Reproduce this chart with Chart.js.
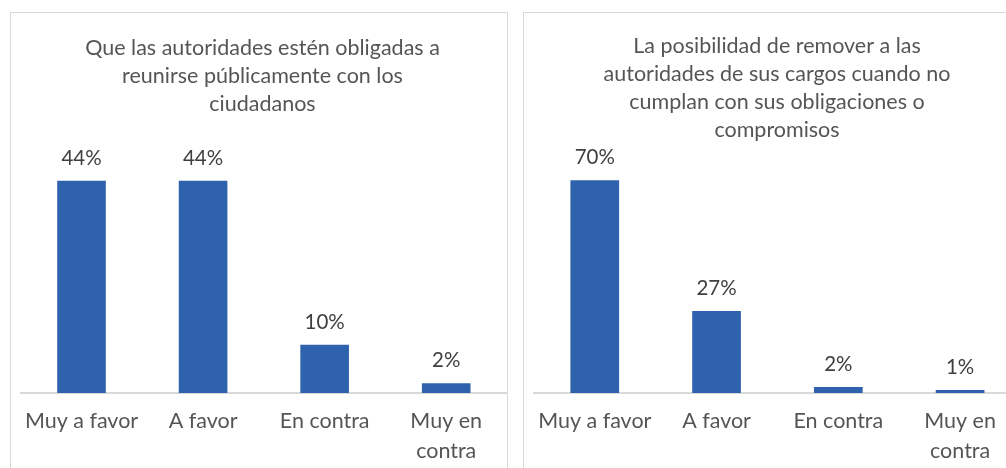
<!DOCTYPE html>
<html lang="es">
<head>
<meta charset="UTF-8">
<title>Encuesta autoridades</title>
<script src="https://cdn.jsdelivr.net/npm/chart.js"></script>
<style>
  html,body{margin:0;padding:0;background:#fff;overflow:hidden;width:1006px;height:468px;}
  .panel{position:absolute;top:12px;height:470px;border:1px solid #d9d9d9;box-sizing:border-box;background:#fff;}
  #p1{left:10px;width:498px;}
  #p2{left:523px;width:508px;}
  .panel canvas{display:block;}
</style>
</head>
<body>
<div class="panel" id="p1"><canvas id="c1"></canvas></div>
<div class="panel" id="p2"><canvas id="c2"></canvas></div>

<script>
/* ==== datos ==== */
const categories = ['Muy a favor', 'A favor', 'En contra', ['Muy en', 'contra']];
const titleLeft = ['Que las autoridades estén obligadas a', 'reunirse públicamente con los', 'ciudadanos'];
const titleRight = ['La posibilidad de remover a las', 'autoridades de sus cargos cuando no', 'cumplan con sus obligaciones o', 'compromisos'];
const valuesLeft = [44, 44, 10, 2];
const valuesRight = [70, 27, 2, 1];

const FONT = 'Lato, "Open Sans", sans-serif';
const BLUE = '#2f62ad';

/* etiquetas encima de las barras */
const barLabels = {
  id: 'barLabels',
  afterDatasetsDraw(chart){
    const ctx = chart.ctx;
    const meta = chart.getDatasetMeta(0);
    const data = chart.data.datasets[0].data;
    ctx.save();
    ctx.font = '20.5px ' + FONT;
    ctx.fillStyle = '#3f3f3f';
    ctx.textAlign = 'center';
    ctx.textBaseline = 'alphabetic';
    meta.data.forEach((bar, i) => {
      ctx.fillText(Math.round(data[i]) + '%', bar.x, bar.y - 16);
    });
    ctx.restore();
  }
};

function makeChart(id, title, values, yMax, pad, titlePad){
  return new Chart(document.getElementById(id), {
    type: 'bar',
    data: {
      labels: categories,
      datasets: [{ data: values, backgroundColor: BLUE, barPercentage: 0.4, categoryPercentage: 1 }]
    },
    options: {
      responsive: false,
      animation: false,
      layout: { padding: pad },
      plugins: {
        legend: { display: false },
        tooltip: { enabled: false },
        title: {
          display: true,
          text: title,
          color: '#555555',
          font: { family: FONT, size: 21.5, weight: 'normal', lineHeight: 1.3 },
          padding: titlePad
        }
      },
      scales: {
        x: {
          grid: { display: false, drawTicks: false },
          border: { display: true, color: '#d9d9d9', width: 2 },
          ticks: { color: '#555555', font: { family: FONT, size: 21.5, lineHeight: 1.4 }, padding: 13, maxRotation: 0, autoSkip: false },
          afterFit(scale){ scale.height = 88; }
        },
        y: { display: false, min: 0, max: yMax }
      }
    },
    plugins: [barLabels]
  });
}

const c1 = document.getElementById('c1'); c1.width = 496; c1.height = 468;
const c2 = document.getElementById('c2'); c2.width = 506; c2.height = 468;

makeChart('c1', titleLeft, valuesLeft, 50, { left: 7, right: 0, top: 0, bottom: 0 }, { top: 21, bottom: 34 });
makeChart('c2', titleRight, valuesRight, 80, { left: 9, right: 9, top: 0, bottom: 0 }, { top: 19, bottom: 6 });
</script>
</body>
</html>
